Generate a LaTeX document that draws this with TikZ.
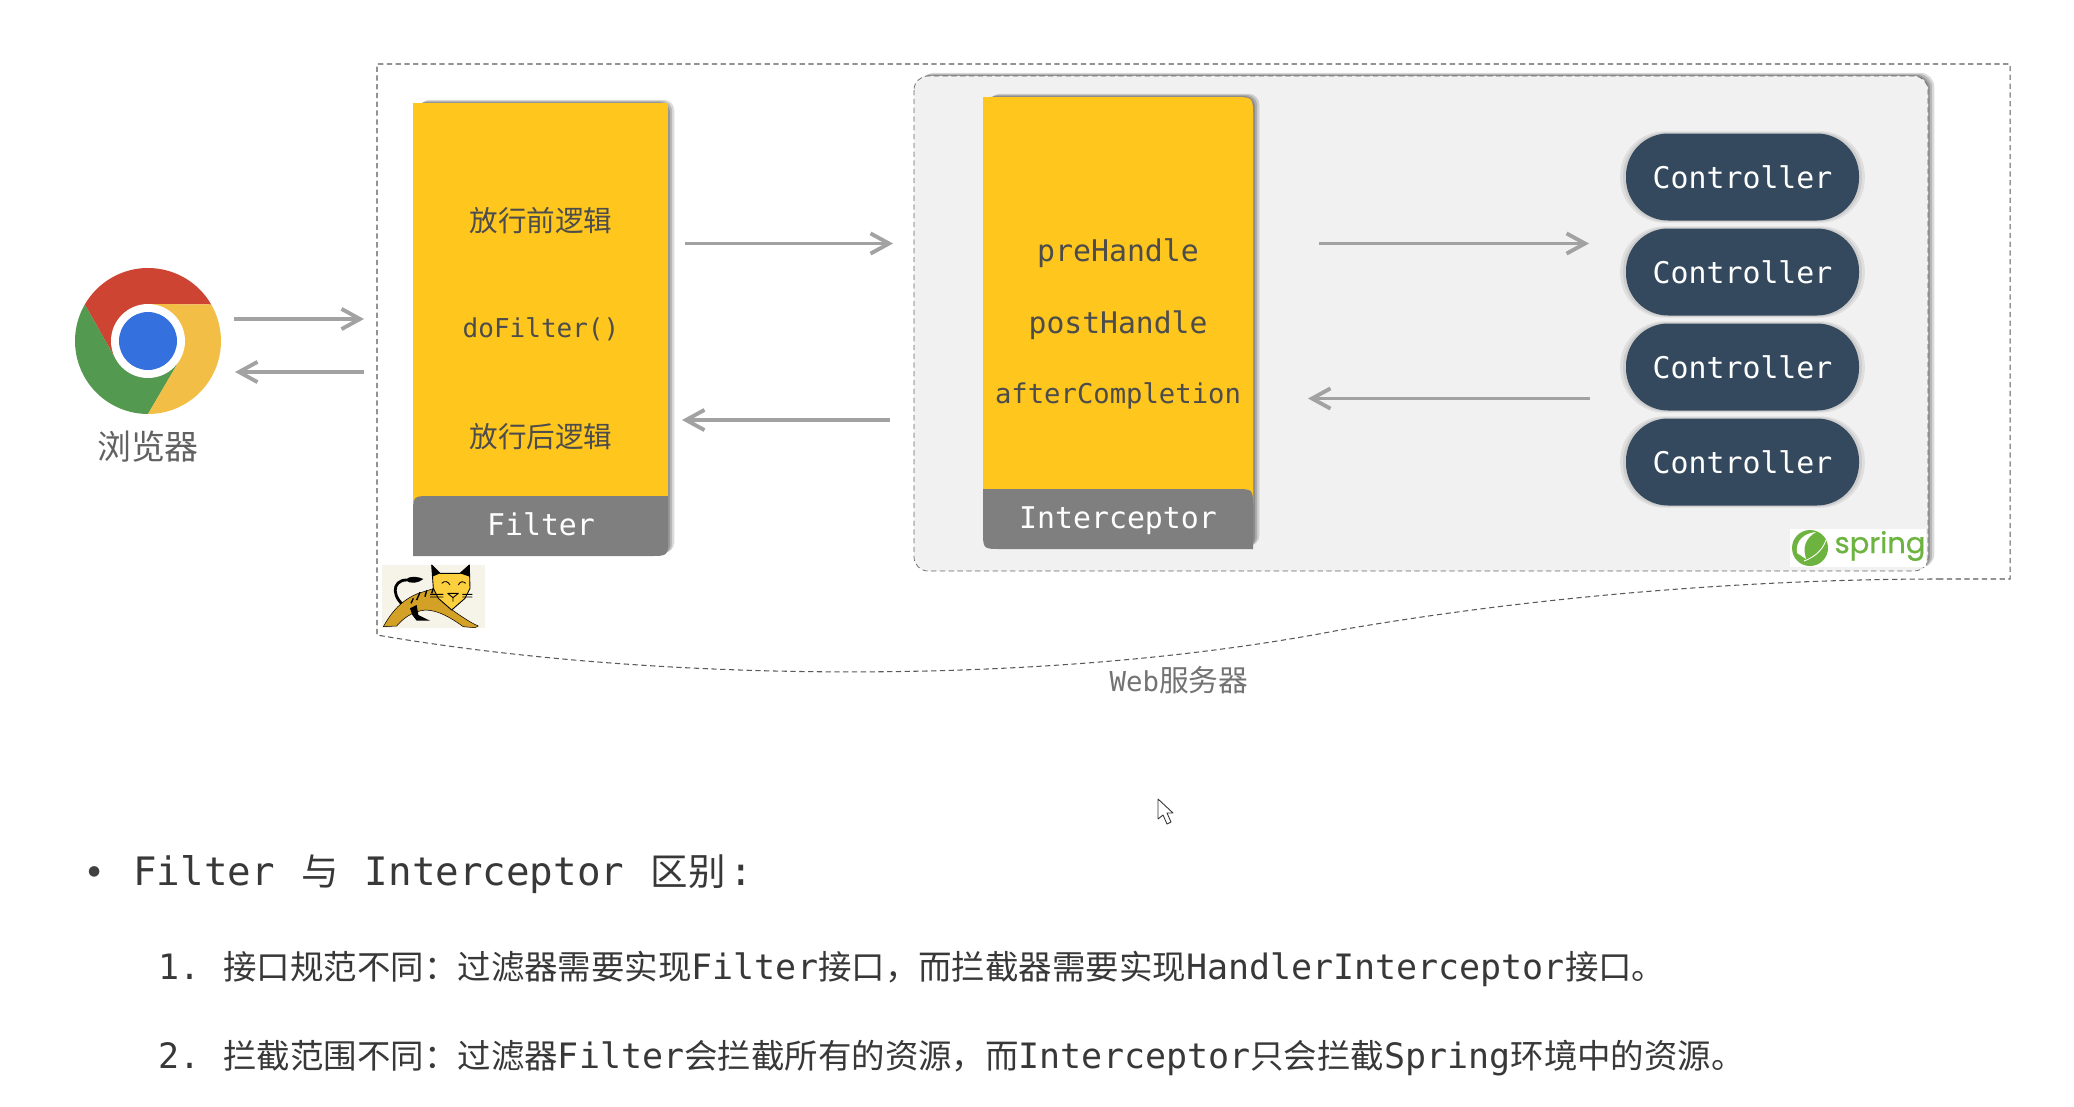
\documentclass[tikz,border=0pt]{standalone}
\usepackage{fontspec}
\setmonofont{DejaVu Sans Mono}
\newfontfamily\springfont[FakeBold=0.7]{Poppins}
\newfontfamily\cjk[Scale=0.957]{Noto Sans CJK SC}
\newcommand{\wcolon}{\char"FF1A\relax}
\newcommand{\wcomma}{\char"FF0C\relax}
\newcommand{\wstop}{\char"3002\relax}
\usetikzlibrary{arrows.meta,shadows}
\definecolor{boxyellow}{HTML}{FFC61E}
\definecolor{boxgray}{HTML}{7F7F7F}
\definecolor{navy}{HTML}{34495E}
\definecolor{webgray}{HTML}{F1F1F1}
\definecolor{flowgray}{HTML}{A2A2A2}
\definecolor{springgreen}{HTML}{6DB33F}
\definecolor{tomgold}{HTML}{D2A126}
\definecolor{tombeige}{HTML}{F6F3E8}
\definecolor{chromered}{HTML}{CD4433}
\definecolor{chromegreen}{HTML}{53994F}
\definecolor{chromeyellow}{HTML}{F3BE45}
\definecolor{chromeblue}{HTML}{3470DE}
\tikzset{
  softshadow/.style={
    general shadow={shadow xshift=3.6pt,shadow yshift=1.8pt,fill=black,opacity=0.14},
    general shadow={shadow xshift=2.4pt,shadow yshift=1.2pt,fill=black,opacity=0.16},
    general shadow={shadow xshift=1.2pt,shadow yshift=0.6pt,fill=black,opacity=0.18}},
  flow/.style={-{Straight Barb[length=10.5pt,width=11.5pt,line width=2.2pt]},flowgray,line width=2.2pt},
  item/.style={font=\ttfamily,text=black!70,inner sep=0pt},
  head/.style={font=\ttfamily\fontsize{17}{20}\selectfont,text=white,inner sep=0pt},
  ctrl/.style={draw=none,fill=navy,rounded corners=24pt,minimum width=233*0.02cm,minimum height=87*0.02cm,
    font=\ttfamily\fontsize{17}{20}\selectfont,text=white,
    general shadow={shadow xshift=0pt,shadow yshift=0pt,shadow scale=1.05,fill=black,opacity=0.07},
    general shadow={shadow xshift=0pt,shadow yshift=0pt,shadow scale=1.025,fill=black,opacity=0.08}},
  note/.style={font=\ttfamily\fontsize{19.9}{24}\selectfont,text=black!78,inner sep=0pt,anchor=base west},
}
\begin{document}
\begin{tikzpicture}[x=0.02cm,y=-0.02cm]
    \useasboundingbox (0,0) rectangle (2074,1106);

    % server outline
    \draw[black!65,densely dashed,line width=0.6pt] (1938,579) -- (2010,579) -- (2010,64) -- (377,64) -- (377,635)
        .. controls (650,682) and (1040,688) .. (1340,630) .. controls (1560,592) and (1780,579) .. (1938,579);
    \node[text=black!55,font=\ttfamily\fontsize{15.6}{18}\selectfont,inner sep=0pt] (server) at (1179,680) {Web{\cjk\fontsize{17.7}{18}\selectfont 服务器}};

    % browser
    \node[circle,minimum size=146*0.02cm,inner sep=0pt] (chrome) at (148,341) {};
    \begin{scope}[shift={(chrome.center)}]
        \fill[chromered] (0,0) -- (90:0.74cm) -- (30:1.46cm) arc[start angle=30,end angle=150,radius=1.46cm] -- (210:0.74cm) -- cycle;
        \fill[chromegreen] (0,0) -- (210:0.74cm) -- (150:1.46cm) arc[start angle=150,end angle=270,radius=1.46cm] -- (330:0.74cm) -- cycle;
        \fill[chromeyellow] (0,0) -- (330:0.74cm) -- (270:1.46cm) arc[start angle=-90,end angle=30,radius=1.46cm] -- (90:0.74cm) -- cycle;
        \fill[white] (0,0) circle (0.74cm);
        \fill[chromeblue] (0,0) circle (0.58cm);
    \end{scope}
    \node[text=black!62,font=\cjk\fontsize{20.2}{22}\selectfont,inner sep=0pt] (browser) at (148,447) {浏览器};

    % filter
    \path[softshadow,rounded corners=6pt] (413,103) rectangle (668,556);
    \node[fill=boxyellow,minimum width=255*0.02cm,minimum height=400*0.02cm,inner sep=0pt] (filter) at (540.5,303) {};
    \fill[boxgray] (413,556) -- (413,514) .. controls (413,496) .. (431,496) -- (668,496) -- (668,538) .. controls (668,556) .. (650,556) -- cycle;
    \node[head] (filterhead) at (541,524) {Filter};
    \node[item,font=\cjk\fontsize{17}{20}\selectfont] (before) at (541,221) {放行前逻辑};
    \node[item,font=\ttfamily\fontsize{14.8}{18}\selectfont] (dofilter) at (541,329) {doFilter()};
    \node[item,font=\cjk\fontsize{17}{20}\selectfont] (after) at (541,437) {放行后逻辑};

    % spring container
    \fill[webgray,rounded corners=8pt,softshadow] (914,76) rectangle (1928,571);
    \draw[black!60,densely dashed,line width=0.4pt,rounded corners=8pt] (914,76) rectangle (1928,571);

    % interceptor
    \path[softshadow,rounded corners=6pt] (983,97) rectangle (1253,549);
    \fill[boxyellow] (983,505) -- (983,97) -- (1233,97) .. controls (1253,97) .. (1253,117) -- (1253,505) -- cycle;
    \node[minimum width=270*0.02cm,minimum height=392*0.02cm,inner sep=0pt] (interceptor) at (1118,293) {};
    \fill[boxgray] (983,489) -- (1235,489) .. controls (1253,489) .. (1253,507) -- (1253,549) -- (1001,549) .. controls (983,549) .. (983,531) -- cycle;
    \node[head] (interceptorhead) at (1118,521) {Interceptor};
    \node[item,font=\ttfamily\fontsize{17}{20}\selectfont] (prehandle) at (1118,253) {preHandle};
    \node[item,font=\ttfamily\fontsize{16.9}{20}\selectfont] (posthandle) at (1118,325) {postHandle};
    \node[item,font=\ttfamily\fontsize{15.5}{20}\selectfont] (aftercompletion) at (1118,396) {afterCompletion};

    % controllers
    \foreach \name/\ypos in {ctrla/177,ctrlb/272,ctrlc/367,ctrld/462}
        \node[ctrl] (\name) at (1742.5,\ypos) {Controller};

    % arrow ends
    \coordinate (in1) at (234,319);
    \coordinate (in2) at (364,319);
    \coordinate (out1) at (364,372);
    \coordinate (out2) at (235,372);
    \coordinate (pass1) at (685,243.5);
    \coordinate (pass2) at (893,243.5);
    \coordinate (back1) at (890,420);
    \coordinate (back2) at (682,420);
    \coordinate (call1) at (1319,243.5);
    \coordinate (call2) at (1589,243.5);
    \coordinate (ret1) at (1590,398.5);
    \coordinate (ret2) at (1308,398.5);
    \draw[flow] (in1) -- (in2);
    \draw[flow] (out1) -- (out2);
    \draw[flow] (pass1) -- (pass2);
    \draw[flow] (back1) -- (back2);
    \draw[flow] (call1) -- (call2);
    \draw[flow] (ret1) -- (ret2);

    % tomcat
    \fill[tombeige] (382,565) rectangle (485,628);
    \begin{scope}[shift={(375,555)},x=0.00667cm,y=-0.00667cm,line join=round]
        \draw[black,line width=1.6pt] (105,165) .. controls (45,130) and (50,75) .. (95,75);
        \fill[black] (90,75) .. controls (105,60) and (130,65) .. (145,72) .. controls (130,85) and (105,88) .. (90,75) -- cycle;
        \draw[black,line width=0.3pt,fill=tomgold] (25,215) .. controls (50,170) and (80,135) .. (130,115) -- (195,95) -- (195,130) -- (232,165)
            .. controls (260,185) and (290,205) .. (310,213) -- (300,218) -- (265,215) .. controls (230,190) and (190,165) .. (150,165)
            .. controls (110,170) and (85,190) .. (65,213) -- cycle;
        \fill[black] (105,160) -- (125,150) -- (130,180) -- (150,190) -- (165,197) -- (125,197) -- (112,180) -- cycle;
        \draw[black,line width=0.8pt] (135,112) -- (125,135) (155,106) -- (150,125) (175,100) -- (170,115) (115,130) -- (108,145);
        \draw[black,line width=0.5pt,fill=yellow!55!orange!75] (170,30) -- (195,55) -- (255,55) -- (283,30) -- (285,100) -- (270,130) -- (230,165) -- (190,130) -- (175,100) -- cycle;
        \fill[black] (170,30) -- (195,55) -- (172,65) -- cycle;
        \fill[black] (283,30) -- (255,55) -- (285,65) -- cycle;
        \draw[black,line width=0.5pt] (200,85) .. controls (210,75) and (220,80) .. (225,90) (250,90) .. controls (255,78) and (265,78) .. (272,85) (218,115) -- (250,115) -- (234,128) -- cycle (234,128) -- (234,140) (165,118) -- (205,118) (165,126) -- (205,126) (262,118) -- (292,118) (262,126) -- (292,126);
    \end{scope}

    % spring logo
    \fill[white] (1790,529) rectangle (1926,567);
    \fill[springgreen] (1810,548) circle (18*0.02cm);
    \fill[white] (1797,553) .. controls (1795,540) and (1805,533) .. (1816,532) .. controls (1806,538) and (1802,546) .. (1806,559) -- cycle;
    \draw[white,line width=0.5pt] (1804,561) .. controls (1812,558) and (1822,552) .. (1826,540);
    \node[text=springgreen,font=\springfont\fontsize{16.5}{20}\selectfont,inner sep=0pt] (spring) at (1880,546) {spring};

    % pointer
    \draw[black!80,fill=white,line width=0.5pt,line join=round] (1158,799) -- (1158,819) -- (1163,815) -- (1167,824) -- (1171,822) -- (1167,813) -- (1173,813) -- cycle;

    % notes
    \node[text=black!75,inner sep=0pt,font=\fontsize{27}{28}\selectfont] (bullet) at (95,876) {\textbullet};
    \node[note,font=\ttfamily\fontsize{22.3}{24}\selectfont] (title) at (133,885) {Filter\hspace{1.5pt} {\cjk\fontsize{22.3}{24}\selectfont 与}\hspace{1.5pt} Interceptor\hspace{1.5pt} {\cjk\fontsize{22.3}{24}\selectfont 区别}\hspace{2pt}:};
    \node[note] (num1) at (158,979) {1.};
    \node[note] (rule1) at (223,979) {{\cjk 接口规范不同\wcolon 过滤器需要实现}Filter{\cjk 接口\wcomma 而拦截器需要实现}HandlerInterceptor{\cjk 接口\wstop}};
    \node[note] (num2) at (158,1068) {2.};
    \node[note] (rule2) at (223,1068) {{\cjk 拦截范围不同\wcolon 过滤器}Filter{\cjk 会拦截所有的资源\wcomma 而}Interceptor{\cjk 只会拦截}Spring{\cjk 环境中的资源\wstop}};
\end{tikzpicture}
\end{document}
